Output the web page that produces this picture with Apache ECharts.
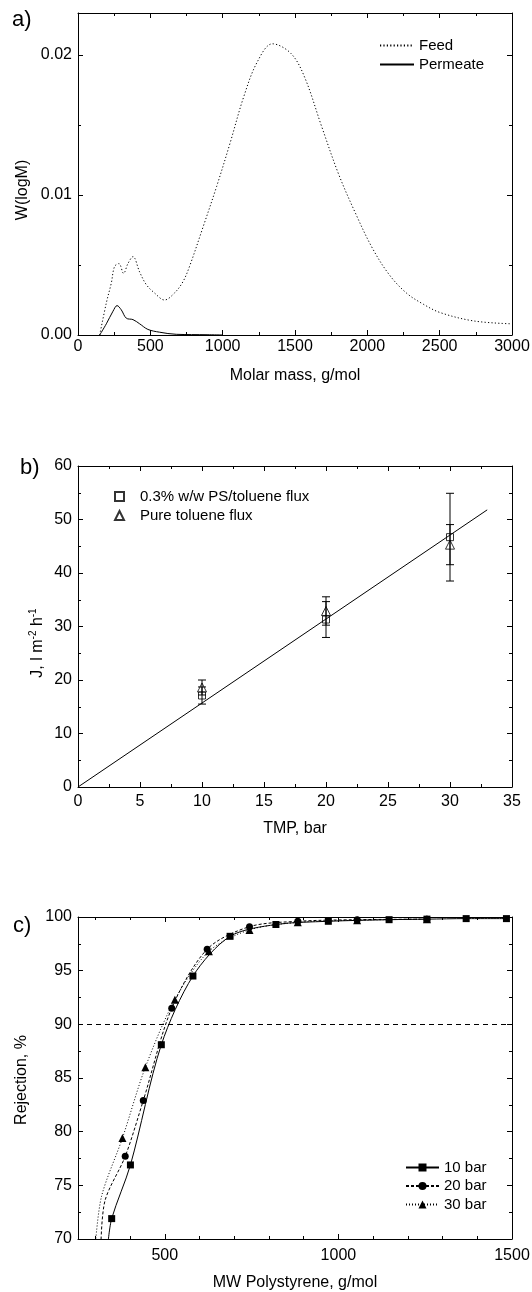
<!DOCTYPE html>
<html><head><meta charset="utf-8">
<script src="https://cdn.jsdelivr.net/npm/echarts@6/dist/echarts.min.js"></script>
<style>html,body{margin:0;padding:0;background:#fff}#chart{width:532px;height:1292px}</style>
</head><body><div id="chart"></div>
<script>
// ---------- Panel a: molar mass distribution ----------
const feedMass = [150, 196, 230, 253, 283, 315, 345, 380, 426, 472, 529, 598, 667, 725, 771, 864, 958, 1051, 1145, 1239, 1344, 1473, 1567, 1684, 1801, 1918, 2035, 2152, 2270, 2387, 2504, 2738, 2995];
const feedW    = [0.0000, 0.0023, 0.0037, 0.0049, 0.0051, 0.0044, 0.0051, 0.0056, 0.0045, 0.0036, 0.0030, 0.0025, 0.0030, 0.0038, 0.0049, 0.0077, 0.0106, 0.0137, 0.0170, 0.0195, 0.0208, 0.0201, 0.0184, 0.0149, 0.0115, 0.0087, 0.0062, 0.0043, 0.0030, 0.0022, 0.0016, 0.0010, 0.0008];
const permMass = [150, 196, 242, 270, 299, 334, 380, 426, 483, 564, 679, 892, 1000];
const permW    = [0.0000, 0.0008, 0.0017, 0.0021, 0.0018, 0.0012, 0.0011, 0.0008, 0.0004, 0.0002, 0.00005, 0.00002, 0.0000];
const aXTicks = [0, 500, 1000, 1500, 2000, 2500, 3000];
const aXMinor = [250, 750, 1250, 1750, 2250, 2750];
const aYTicks = [0, 0.01, 0.02];
const aYMinor = [0.005, 0.015];

// ---------- Panel b: flux vs TMP ----------
const tmp      = [10, 20, 30];
const psFlux   = [17.1, 31.3, 46.7];
const psErr    = [1.6, 3.35, 8.2];
const pureFlux = [18.6, 32.9, 45.3];
const pureErr  = [1.4, 2.65, 3.75];
const fitTMP   = [0, 33];
const fitFlux  = [0, 51.8];
const bXTicks = [0, 5, 10, 15, 20, 25, 30, 35];
const bXMinor = [2.5, 7.5, 12.5, 17.5, 22.5, 27.5, 32.5];
const bYTicks = [0, 10, 20, 30, 40, 50, 60];
const bYMinor = [5, 15, 25, 35, 45, 55];

// ---------- Panel c: rejection curves ----------
const mw10  = [336, 347, 401, 490, 581, 688, 820, 971, 1146, 1255, 1368, 1484];
const rej10 = [69.5, 71.9, 76.9, 88.1, 94.5, 98.2, 99.3, 99.6, 99.75, 99.8, 99.85, 99.85];
const lead10 = 1;
const mw20  = [316, 328, 386, 438, 520, 622, 744, 883, 1054, 1255];
const rej20 = [69.5, 73.6, 77.7, 82.9, 91.5, 97.0, 99.1, 99.6, 99.75, 99.8];
const lead20 = 2;
const mw30  = [300, 318, 378, 444, 529, 627, 744, 883, 1054, 1255];
const rej30 = [69.5, 74.0, 79.4, 86.0, 92.3, 96.8, 98.8, 99.5, 99.7, 99.8];
const lead30 = 2;
const rejectionLimit = 90;
const cXLabels = [500, 1000, 1500];
const cXMinor = [300, 400, 600, 700, 800, 900, 1100, 1200, 1300, 1400];
const cYTicks = [70, 75, 80, 85, 90, 95, 100];
const cYMinor = [72.5, 77.5, 82.5, 87.5, 92.5, 97.5];

const FONT = '"Liberation Sans", Arial, sans-serif';
const INK = '#000';
const plain = v => String(v);

function axesFor(dim, grid, min, max, majors, minors, label, extra) {
  const mainPos = dim === 'x' ? 'bottom' : 'left';
  const mirPos = dim === 'x' ? 'top' : 'right';
  const base = { type: 'value', gridIndex: grid, min: min, max: max, splitLine: { show: false }, scale: false };
  const line = { show: true, onZero: false, lineStyle: { color: INK, width: 1 } };
  const noLine = { show: false, onZero: false };
  const tick = (vals, len) => ({ show: true, inside: true, length: len, customValues: vals, lineStyle: { color: INK, width: 1 } });
  return [
    Object.assign({}, base, {
      position: mainPos, axisLine: line, axisTick: tick(majors, 5),
      axisLabel: { show: true, customValues: label.values, color: INK, fontSize: 16, fontFamily: FONT, margin: label.margin, formatter: label.formatter || plain }
    }, extra),
    Object.assign({}, base, { position: mainPos, axisLine: noLine, axisTick: tick(minors, 3), axisLabel: { show: false } }),
    Object.assign({}, base, { position: mirPos, axisLine: line, axisTick: tick(majors, 5), axisLabel: { show: false } }),
    Object.assign({}, base, { position: mirPos, axisLine: noLine, axisTick: tick(minors, 3), axisLabel: { show: false } })
  ];
}

const nameStyle = (pad, rich) => Object.assign({ color: INK, fontSize: 16, fontFamily: FONT, padding: pad }, rich ? { rich: rich } : {});

const xAxes = [].concat(
  axesFor('x', 0, 0, 3000, aXTicks, aXMinor, { values: aXTicks, margin: 4 },
    { name: 'Molar mass, g/mol', nameLocation: 'middle', nameGap: 33, nameMoveOverlap: false, nameTextStyle: nameStyle(0) }),
  axesFor('x', 1, 0, 35, bXTicks, bXMinor, { values: bXTicks, margin: 7 },
    { name: 'TMP, bar', nameLocation: 'middle', nameGap: 34, nameMoveOverlap: false, nameTextStyle: nameStyle(0) }),
  axesFor('x', 2, 250, 1500, cXLabels, cXMinor, { values: cXLabels, margin: 9 },
    { name: 'MW Polystyrene, g/mol', nameLocation: 'middle', nameGap: 36, nameMoveOverlap: false, nameTextStyle: nameStyle(0) })
);
const yAxes = [].concat(
  axesFor('y', 0, 0, 0.023, aYTicks, aYMinor, { values: aYTicks, margin: 6, formatter: v => v.toFixed(2) },
    { name: 'W(logM)', nameLocation: 'middle', nameGap: 47, nameMoveOverlap: false, nameTextStyle: nameStyle([0, 32, 0, 0]) }),
  axesFor('y', 1, 0, 60, bYTicks, bYMinor, { values: bYTicks, margin: 6 },
    { name: '{n|J, l m}{s|-2}{n| h}{s|-1}', nameLocation: 'middle', nameGap: 30, nameMoveOverlap: false,
      nameTextStyle: nameStyle([0, 33, 0, 0], {
        n: { fontSize: 16, fontFamily: FONT, color: INK, lineHeight: 20 },
        s: { fontSize: 10, fontFamily: FONT, color: INK, lineHeight: 20, verticalAlign: 'top' }
      }) }),
  axesFor('y', 2, 70, 100, cYTicks, cYMinor, { values: cYTicks, margin: 6 },
    { name: 'Rejection, %', nameLocation: 'middle', nameGap: 48, nameMoveOverlap: false, nameTextStyle: nameStyle([0, 4, 0, 0]) })
);

function pairs(xs, ys) { return xs.map((x, i) => [x, ys[i]]); }
function withLead(xs, ys, lead) {
  return xs.map((x, i) => i < lead ? { value: [x, ys[i]], symbol: 'none' } : [x, ys[i]]);
}
function errRender(params, api) {
  const x = api.value(0), lo = api.value(1), hi = api.value(2);
  const p1 = api.coord([x, lo]), p2 = api.coord([x, hi]);
  const hw = 4;
  const st = { stroke: INK, lineWidth: 1 };
  return { type: 'group', children: [
    { type: 'line', shape: { x1: p1[0], y1: p1[1], x2: p2[0], y2: p2[1] }, style: st },
    { type: 'line', shape: { x1: p1[0] - hw, y1: p1[1], x2: p1[0] + hw, y2: p1[1] }, style: st },
    { type: 'line', shape: { x1: p2[0] - hw, y1: p2[1], x2: p2[0] + hw, y2: p2[1] }, style: st }
  ] };
}

const option = {
  animation: false,
  backgroundColor: '#fff',
  textStyle: { fontFamily: FONT },
  grid: [
    { left: 78, top: 13, width: 434, height: 322, outerBoundsMode: 'none' },
    { left: 78, top: 466, width: 434, height: 321, outerBoundsMode: 'none' },
    { left: 78, top: 917, width: 434, height: 322, outerBoundsMode: 'none' }
  ],
  xAxis: xAxes,
  yAxis: yAxes,
  legend: [
    { data: ['Feed', 'Permeate'], orient: 'vertical', left: 379, top: 38, padding: 0, itemWidth: 34, itemHeight: 14, itemGap: 4,
      selectedMode: false, itemStyle: { opacity: 0 }, textStyle: { color: INK, fontSize: 15, fontFamily: FONT } },
    { data: ['0.3% w/w PS/toluene flux', 'Pure toluene flux'], orient: 'vertical', left: 114, top: 489, padding: 0, itemWidth: 9, itemHeight: 9, itemGap: 4,
      selectedMode: false, textStyle: { color: INK, fontSize: 15, fontFamily: FONT, padding: [0, 0, 0, 11] } },
    { data: ['10 bar', '20 bar', '30 bar'], orient: 'vertical', left: 405, top: 1160, padding: 0, itemWidth: 33, itemHeight: 10, itemGap: 3.5,
      selectedMode: false, textStyle: { color: INK, fontSize: 15, fontFamily: FONT } }
  ],
  graphic: [
    { type: 'text', left: 12, top: 9, style: { text: 'a)', font: '22px ' + FONT, fill: INK } },
    { type: 'text', left: 20, top: 457, style: { text: 'b)', font: '22px ' + FONT, fill: INK } },
    { type: 'text', left: 13, top: 915, style: { text: 'c)', font: '22px ' + FONT, fill: INK } }
  ],
  series: [
    { type: 'line', name: 'Feed', xAxisIndex: 0, yAxisIndex: 0, data: pairs(feedMass, feedW), symbol: 'none', smooth: 0.35,
      lineStyle: { color: INK, width: 1, type: [1.2, 2.2] }, itemStyle: { color: INK } },
    { type: 'line', name: 'Permeate', xAxisIndex: 0, yAxisIndex: 0, data: pairs(permMass, permW), symbol: 'none', smooth: 0.35,
      lineStyle: { color: INK, width: 1 }, itemStyle: { color: INK } },

    { type: 'line', name: 'fit', xAxisIndex: 4, yAxisIndex: 4, data: pairs(fitTMP, fitFlux), symbol: 'none',
      lineStyle: { color: INK, width: 1 } },
    { type: 'custom', name: 'psErr', xAxisIndex: 4, yAxisIndex: 4, renderItem: errRender, encode: { x: 0, y: [1, 2] },
      data: tmp.map((t, i) => [t, psFlux[i] - psErr[i], psFlux[i] + psErr[i]]) },
    { type: 'custom', name: 'pureErr', xAxisIndex: 4, yAxisIndex: 4, renderItem: errRender, encode: { x: 0, y: [1, 2] },
      data: tmp.map((t, i) => [t, pureFlux[i] - pureErr[i], pureFlux[i] + pureErr[i]]) },
    { type: 'scatter', name: '0.3% w/w PS/toluene flux', xAxisIndex: 4, yAxisIndex: 4, data: pairs(tmp, psFlux),
      symbol: 'rect', symbolSize: 7, symbolKeepAspect: true, itemStyle: { color: 'rgba(0,0,0,0)', borderColor: INK, borderWidth: 1 } },
    { type: 'scatter', name: 'Pure toluene flux', xAxisIndex: 4, yAxisIndex: 4, data: pairs(tmp, pureFlux),
      symbol: 'triangle', symbolSize: 9, symbolKeepAspect: true, itemStyle: { color: 'rgba(0,0,0,0)', borderColor: INK, borderWidth: 1 } },

    { type: 'line', name: '10 bar', xAxisIndex: 8, yAxisIndex: 8, data: withLead(mw10, rej10, lead10), smooth: 0.3,
      symbol: 'rect', symbolSize: 7, showAllSymbol: true, lineStyle: { color: INK, width: 1 }, itemStyle: { color: INK },
      markLine: { silent: true, symbol: 'none', label: { show: false }, lineStyle: { color: INK, width: 1, type: [5, 4] },
        data: [{ yAxis: rejectionLimit }] } },
    { type: 'line', name: '20 bar', xAxisIndex: 8, yAxisIndex: 8, data: withLead(mw20, rej20, lead20), smooth: 0.3,
      symbol: 'circle', symbolSize: 7, showAllSymbol: true, lineStyle: { color: INK, width: 1, type: [3, 2] }, itemStyle: { color: INK } },
    { type: 'line', name: '30 bar', xAxisIndex: 8, yAxisIndex: 8, data: withLead(mw30, rej30, lead30), smooth: 0.3,
      symbol: 'triangle', symbolSize: 8, showAllSymbol: true, lineStyle: { color: INK, width: 1, type: [1, 2] }, itemStyle: { color: INK } }
  ]
};
echarts.init(document.getElementById('chart'), null, { renderer: 'canvas' }).setOption(option);
</script>
</body></html>
